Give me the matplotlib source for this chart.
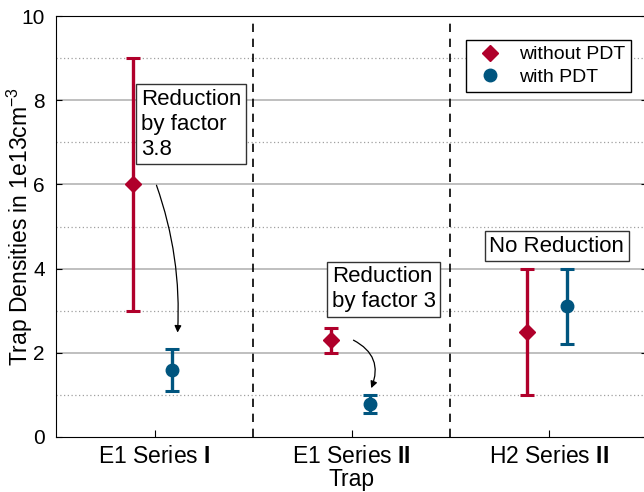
import numpy as np
import matplotlib.pyplot as plt
from matplotlib.lines import Line2D

plt.rcParams['font.family'] = ['Liberation Sans', 'DejaVu Sans']
plt.rcParams['mathtext.fontset'] = 'custom'
plt.rcParams['mathtext.rm'] = 'Liberation Sans'
plt.rcParams['mathtext.it'] = 'Liberation Sans:italic'
plt.rcParams['mathtext.bf'] = 'Liberation Sans:bold'

traps = [r'E1 Series $\mathbf{I}$', r'E1 Series $\mathbf{II}$', r'H2 Series $\mathbf{II}$']
trap_pos = [1, 2, 3]

# without PDT
x_without = [0.89, 1.895, 2.89]
y_without = [6.0, 2.3, 2.5]
lo_without = [3.0, 2.0, 1.0]
hi_without = [9.0, 2.6, 4.0]

# with PDT
x_with = [1.09, 2.095, 3.095]
y_with = [1.6, 0.78, 3.1]
lo_with = [1.1, 0.57, 2.2]
hi_with = [2.1, 1.0, 4.0]

notes = ['Reduction\nby factor\n3.8', 'Reduction\nby factor 3', 'No Reduction']
note_xy = [(0.93, 8.27), (1.90, 4.05), (2.70, 4.78)]
arrow_from = [(1.01, 5.98), (2.01, 2.30)]
arrow_to = [(1.117, 2.48), (2.10, 1.16)]
arrow_rad = [-0.1, -0.45]

red = '#B0002B'
blue = '#00557F'

fig = plt.figure(figsize=(6.44, 4.92), dpi=100)
ax = fig.add_axes([56 / 644, 55 / 492, 591 / 644, 421 / 492])

# grid lines
for v in range(1, 10):
    if v % 2 == 0:
        ax.axhline(v, color='#b4b4b4', lw=1.2, zorder=0)
    else:
        ax.axhline(v, color='#a0a0a0', lw=0.9, ls=(0, (1, 2)), zorder=0)
for v in [1.5, 2.5]:
    ax.axvline(v, color='black', lw=1.2, ls=(0, (5, 4)), zorder=1)

ylo = np.array(y_without) - np.array(lo_without)
yhi = np.array(hi_without) - np.array(y_without)
ax.errorbar(x_without, y_without, yerr=[ylo, yhi], fmt='D', color=red,
            ms=8, lw=2.4, capsize=5, capthick=2.2, zorder=3)
ylo = np.array(y_with) - np.array(lo_with)
yhi = np.array(hi_with) - np.array(y_with)
ax.errorbar(x_with, y_with, yerr=[ylo, yhi], fmt='o', color=blue,
            ms=9, lw=2.4, capsize=5, capthick=2.2, zorder=3)

for s, (tx, ty) in zip(notes, note_xy):
    ax.text(tx, ty, s, ha='left', va='top', fontsize=16, linespacing=1.25,
            bbox=dict(boxstyle='square,pad=0.2', fc='white', ec='#333333', lw=1),
            zorder=4)

for p0, p1, r in zip(arrow_from, arrow_to, arrow_rad):
    ax.annotate('', xy=p1, xytext=p0,
                arrowprops=dict(arrowstyle='-|>', color='black', lw=0.9,
                                mutation_scale=10, shrinkA=0, shrinkB=0,
                                connectionstyle='arc3,rad=%s' % r), zorder=4)

ax.set_xlim(0.5, 3.5)
ax.set_ylim(0, 10)
ax.set_xticks(trap_pos)
ax.set_xticklabels(traps, fontsize=16.5)
ax.set_yticks(range(0, 11, 2))
ax.tick_params(axis='y', labelsize=15, direction='in', right=True, length=4, pad=8)
ax.tick_params(axis='x', direction='in', top=False, length=5, pad=6)
ax.set_xlabel('Trap', fontsize=16.5, labelpad=0)
ax.set_ylabel('Trap Densities in 1e13cm$^{-3}$', fontsize=16.5)
ax.yaxis.set_label_coords(-0.036, 0.5)

handles = [Line2D([], [], ls='none', marker='D', ms=8, color=red),
           Line2D([], [], ls='none', marker='o', ms=9, color=blue)]
leg = ax.legend(handles, ['without PDT', 'with PDT'], loc='upper right',
                bbox_to_anchor=(0.973, 0.943), borderaxespad=0, fontsize=14,
                fancybox=False, edgecolor='black', framealpha=1,
                handletextpad=0.6, handlelength=1.8, borderpad=0.3,
                labelspacing=0.25)
leg.get_frame().set_linewidth(1)

fig.savefig('out.png', dpi=100)
